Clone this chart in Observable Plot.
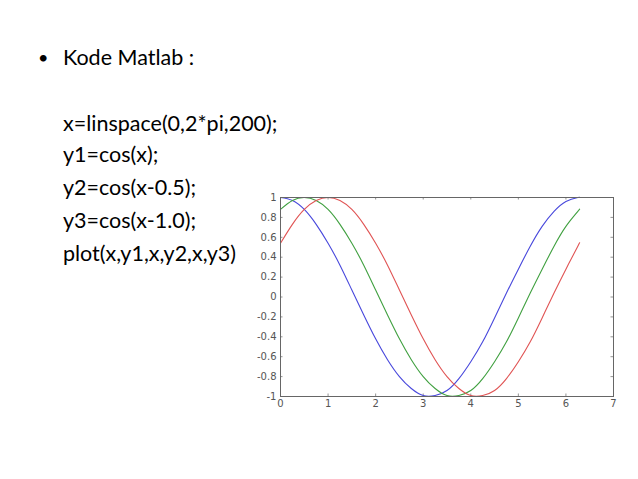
<!DOCTYPE html>
<html>
<head>
<meta charset="utf-8">
<script src="https://cdn.jsdelivr.net/npm/d3@7"></script>
<script src="https://cdn.jsdelivr.net/npm/@observablehq/plot@0.6"></script>
<style>
  html, body { margin: 0; padding: 0; background: #fff; width: 638px; height: 479px; overflow: hidden; }
  .slide { position: relative; width: 638px; height: 479px; font-family: Lato, "Open Sans", sans-serif; color: #000; }
  .t { position: absolute; font-size: 21.5px; line-height: 26px; white-space: nowrap; }
  #chart { position: absolute; left: 245px; top: 185px; }
</style>
</head>
<body>
<div class="slide">
  <div class="t" style="left:38px; top:44px; font-size:18px;">•</div>
  <div class="t" style="left:63px; top:44px;">Kode Matlab :</div>
  <div class="t" style="left:63px; top:110px;">x=linspace(0,2*pi,200);</div>
  <div class="t" style="left:63px; top:141px;">y1=cos(x);</div>
  <div class="t" style="left:63px; top:174px;">y2=cos(x-0.5);</div>
  <div class="t" style="left:63px; top:207px;">y3=cos(x-1.0);</div>
  <div class="t" style="left:63px; top:240px;">plot(x,y1,x,y2,x,y3)</div>
  <div id="chart"></div>
</div>
<script>
// values
const xs = [0, 0.25, 0.5, 0.75, 1, 1.25, 1.5, 1.75, 2, 2.25, 2.5, 2.75, 3, 3.25, 3.5, 3.75, 4, 4.25, 4.5, 4.75, 5, 5.25, 5.5, 5.75, 6, 6.25, 6.28];
const y1 = [1.00, 0.97, 0.88, 0.73, 0.54, 0.32, 0.07, -0.18, -0.42, -0.63, -0.80, -0.92, -0.99, -0.99, -0.94, -0.82, -0.65, -0.45, -0.21, 0.04, 0.28, 0.51, 0.71, 0.86, 0.96, 1.00, 1.00];
const y2 = [0.88, 0.97, 1.00, 0.97, 0.88, 0.73, 0.54, 0.32, 0.07, -0.18, -0.42, -0.63, -0.80, -0.92, -0.99, -0.99, -0.94, -0.82, -0.65, -0.45, -0.21, 0.04, 0.28, 0.51, 0.71, 0.86, 0.88];
const y3 = [0.54, 0.73, 0.88, 0.97, 1.00, 0.97, 0.88, 0.73, 0.54, 0.32, 0.07, -0.18, -0.42, -0.63, -0.80, -0.92, -0.99, -0.99, -0.94, -0.82, -0.65, -0.45, -0.21, 0.04, 0.28, 0.51, 0.54];
const seriesNames = ["y1", "y2", "y3"];
const seriesColors = ["#4848dc", "#40a040", "#e05454"];
const xTicks = [0, 1, 2, 3, 4, 5, 6, 7];
const yTicks = [-1, -0.8, -0.6, -0.4, -0.2, 0, 0.2, 0.4, 0.6, 0.8, 1];

const ySeries = [y1, y2, y3];
const data = [];
ySeries.forEach((ys, k) => xs.forEach((x, i) => data.push({x, y: ys[i], s: seriesNames[k]})));

const W = 380, H = 230, mL = 35, mR = 12, mT = 12, mB = 19;
const innerW = W - mL - mR, innerH = H - mT - mB;
const tl = 2.5;

const chart = Plot.plot({
  width: W, height: H,
  marginLeft: mL, marginRight: mR, marginTop: mT, marginBottom: mB,
  style: {fontFamily: "'DejaVu Sans', sans-serif", fontSize: "10px", background: "#fff", overflow: "visible", color: "#555"},
  x: {domain: [0, 7], ticks: xTicks, tickFormat: d => String(d), label: null},
  y: {domain: [-1, 1], ticks: yTicks, tickFormat: d => String(d), label: null},
  color: {domain: seriesNames, range: seriesColors},
  marks: [
    Plot.axisX(xTicks, {tickSize: 0, tickPadding: 3, fontSize: 10, label: null, tickFormat: d => String(d)}),
    Plot.axisY(yTicks, {tickSize: 0, tickPadding: 4, fontSize: 10, label: null, tickFormat: d => String(d)}),
    Plot.tickX(xTicks, {x: d => d, insetTop: innerH - tl, stroke: "#777", strokeWidth: 0.8}),
    Plot.tickX(xTicks, {x: d => d, insetBottom: innerH - tl, stroke: "#777", strokeWidth: 0.8}),
    Plot.tickY(yTicks, {y: d => d, insetRight: innerW - tl, stroke: "#777", strokeWidth: 0.8}),
    Plot.tickY(yTicks, {y: d => d, insetLeft: innerW - tl, stroke: "#777", strokeWidth: 0.8}),
    Plot.line(data, {x: "x", y: "y", z: "s", stroke: "s", strokeWidth: 1.1, curve: "natural"}),
    Plot.frame({stroke: "#666", strokeWidth: 1})
  ]
});
document.getElementById("chart").appendChild(chart);
</script>
</body>
</html>
